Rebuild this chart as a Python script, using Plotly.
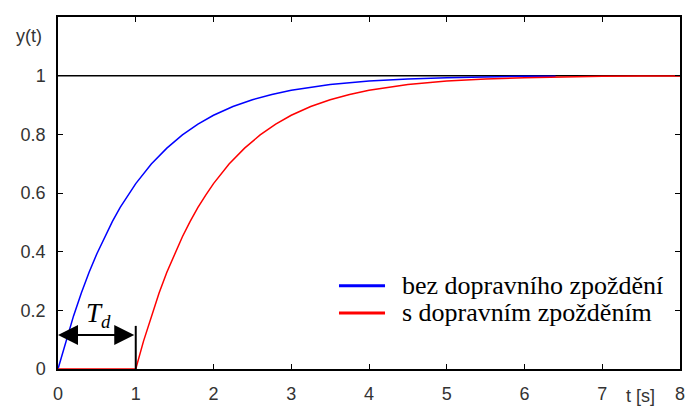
import plotly.graph_objects as go

# data
t_blue = [0, 0.1, 0.2, 0.3, 0.4, 0.5, 0.6, 0.7, 0.8, 0.9, 1.0, 1.2, 1.4, 1.6, 1.8, 2.0,
          2.25, 2.5, 2.75, 3.0, 3.5, 4.0, 4.5, 5.0, 5.5, 6.0, 6.4]
y_blue = [0, 0.095, 0.181, 0.259, 0.330, 0.393, 0.451, 0.503, 0.551, 0.593, 0.632, 0.699,
          0.753, 0.798, 0.835, 0.865, 0.895, 0.918, 0.936, 0.950, 0.970, 0.982, 0.989,
          0.993, 0.996, 0.998, 0.998]
t_red = [0, 1.0, 1.1, 1.2, 1.3, 1.4, 1.5, 1.6, 1.7, 1.8, 1.9, 2.0, 2.2, 2.4, 2.6, 2.8, 3.0,
         3.25, 3.5, 3.75, 4.0, 4.5, 5.0, 5.5, 6.0, 6.5, 7.0, 7.5, 8.0]
y_red = [0, 0, 0.095, 0.181, 0.259, 0.330, 0.393, 0.451, 0.503, 0.551, 0.593, 0.632, 0.699,
         0.753, 0.798, 0.835, 0.865, 0.895, 0.918, 0.936, 0.950, 0.970, 0.982, 0.989,
         0.993, 0.996, 0.998, 0.999, 0.999]
ref_x = [0, 8]
ref_y = [1, 1]
x_ticks = [0, 1, 2, 3, 4, 5, 6, 7, 8]
y_ticks = [0, 0.2, 0.4, 0.6, 0.8, 1]
y_ticklabels = ["0", "0.2", "0.4", "0.6", "0.8", "1"]
legend_names = ["bez dopravního zpoždění", "s dopravním zpožděním"]
legend_colors = ["#0000ff", "#ff0000"]
td_start, td_end, td_level = 0, 1, 0.116

serif = "Liberation Serif"
tickfont = dict(family="Liberation Sans", size=18, color="#333333")

fig = go.Figure()
fig.add_trace(go.Scatter(x=ref_x, y=ref_y, mode="lines", line=dict(color="black", width=1.5),
                         showlegend=False, hoverinfo="skip"))
fig.add_trace(go.Scatter(x=t_blue, y=y_blue, mode="lines", line=dict(color=legend_colors[0], width=1.5),
                         name=legend_names[0], showlegend=False))
fig.add_trace(go.Scatter(x=t_red, y=y_red, mode="lines", line=dict(color=legend_colors[1], width=1.5),
                         name=legend_names[1], showlegend=False))

fig.update_layout(
    width=687, height=406,
    margin=dict(l=58, r=7, t=17, b=37, autoexpand=False),
    paper_bgcolor="white", plot_bgcolor="white",
    font=dict(family=serif, size=20, color="black"),
    showlegend=False,
    xaxis=dict(range=[0, 8], tickvals=x_ticks, ticks="inside", ticklen=5, tickcolor="black",
               showline=True, linecolor="black", linewidth=1.5, mirror="ticks",
               showgrid=False, zeroline=False, tickfont=tickfont, fixedrange=True,
               ticklabelstandoff=8, automargin=False),
    yaxis=dict(range=[0, 1.2], tickvals=y_ticks, ticktext=y_ticklabels, ticks="inside",
               ticklen=5, tickcolor="black", showline=True, linecolor="black", linewidth=1.5,
               mirror="ticks", showgrid=False, zeroline=False, tickfont=tickfont,
               ticklabelstandoff=7, fixedrange=True, automargin=False),
)

# manual legend
leg_x0, leg_x1, leg_tx = 3.614, 4.206, 4.399
leg_rows = [0.284, 0.191]
for name, col, ry in zip(legend_names, legend_colors, leg_rows):
    fig.add_shape(type="line", x0=leg_x0, x1=leg_x1, y0=ry, y1=ry, xref="x", yref="y",
                  line=dict(color=col, width=3))
    fig.add_annotation(x=leg_tx, y=ry, xref="x", yref="y", text=name, showarrow=False,
                       xanchor="left", yanchor="middle",
                       font=dict(family=serif, size=26, color="black"))

fig.add_annotation(x=7.49, y=0, yref="y", xref="x", yshift=-27, text="t [s]", showarrow=False,
                   font=tickfont, xanchor="center", yanchor="middle")
fig.add_annotation(x=0, xref="x", y=1.135, yref="y", xshift=-14, text="y(t)", showarrow=False,
                   font=tickfont, xanchor="right", yanchor="middle")

# Td double arrow
fig.add_annotation(x=td_start, y=td_level, ax=td_end, ay=td_level, xref="x", yref="y",
                   axref="x", ayref="y", text="", showarrow=True, arrowhead=2, arrowside="end+start",
                   arrowsize=2, arrowwidth=2, arrowcolor="black", startarrowhead=2, startarrowsize=2)
fig.add_shape(type="line", x0=td_end, x1=td_end, y0=0, y1=0.147, xref="x", yref="y",
              line=dict(color="black", width=2))
fig.add_annotation(x=0.52, y=0.185, xref="x", yref="y",
                   text="<i>T<sub>d</sub></i>", showarrow=False, xanchor="center", yanchor="middle",
                   font=dict(family=serif, size=27, color="black"))

fig.write_html("out.html")
